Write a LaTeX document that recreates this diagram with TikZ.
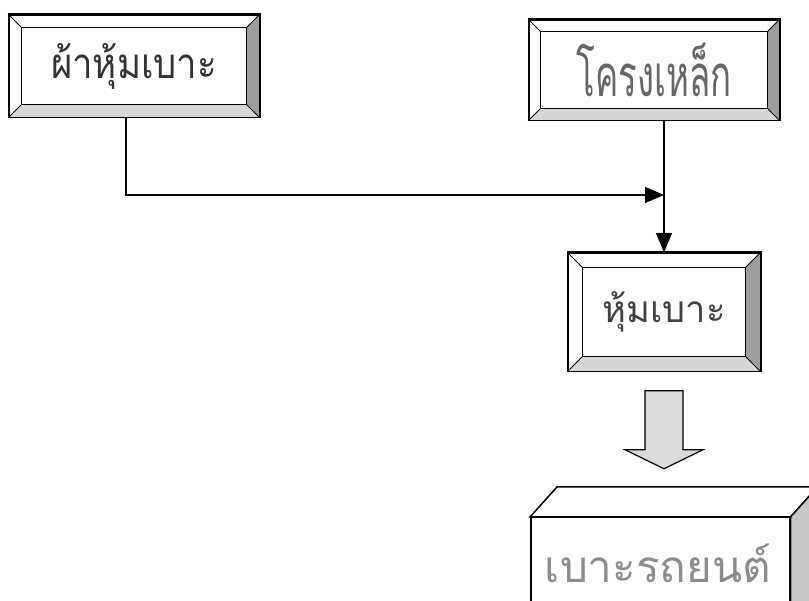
\documentclass[tikz,border=0pt]{standalone}
\usepackage{fontspec}
\newfontfamily\thaifont[Script=Thai]{Loma}
\usepackage{tikz}
\usetikzlibrary{arrows.meta,calc}
\definecolor{bevelshade}{gray}{0.62}
\definecolor{bevellight}{gray}{0.84}
\definecolor{sidegray}{gray}{0.78}
\definecolor{bigarrow}{gray}{0.86}
\tikzset{
  panelbox/.style={
    draw,
    line width=1.5pt,
    fill=white,
    inner sep=0pt,
    font=\thaifont
  },
  flow/.style={-{Triangle[length=19pt,width=16pt]}, line width=1.3pt}
}
% bevelled frame around a panel: #1 node, #2 depth
\newcommand{\bevelframe}[2]{%
  \fill[bevelshade] (#1.north east) -- (#1.south east) -- ($(#1.south east)+(-#2,#2)$) -- ($(#1.north east)+(-#2,-#2)$) -- cycle;
  \fill[bevellight] (#1.south west) -- (#1.south east) -- ($(#1.south east)+(-#2,#2)$) -- ($(#1.south west)+(#2,#2)$) -- cycle;
  \draw[line width=1.2pt] ($(#1.south west)+(#2,#2)$) rectangle ($(#1.north east)+(-#2,-#2)$);
  \draw[line width=1pt] (#1.north west) -- ++(#2,-#2) (#1.north east) -- ++(-#2,-#2)
    (#1.south west) -- ++(#2,#2) (#1.south east) -- ++(-#2,#2);
  \draw[line width=1.5pt] (#1.south west) rectangle (#1.north east);
}

\begin{document}
\begin{tikzpicture}[x=1pt,y=1pt]
\useasboundingbox (0,0) rectangle (809,601);

% panels
\node[panelbox, minimum width=250pt, minimum height=102pt, text=black!80,
  font=\thaifont\fontsize{42}{46}\selectfont] (cover) at (134,535) {\scalebox{0.87}[1]{ผ้าหุ้มเบาะ}};
\node[panelbox, minimum width=250pt, minimum height=100pt, text=black!60,
  font=\thaifont\fontsize{58}{62}\selectfont] (frame) at (654,531) {\scalebox{0.6}[1]{โครงเหล็ก}};
\node[panelbox, minimum width=192pt, minimum height=118pt, text=black!75,
  font=\thaifont\fontsize{37}{40}\selectfont] (upholster) at (664,289) {\scalebox{0.98}[1]{หุ้มเบาะ}};
\bevelframe{cover}{13}
\bevelframe{frame}{12}
\bevelframe{upholster}{15}

% connectors
\coordinate (join) at (upholster.north |- 0,406);
\draw[flow] ([xshift=-8pt]cover.south) |- (join);
\draw[flow] (upholster.north |- frame.south) -- (upholster.north);

% block arrow down to the product
\draw[line width=1.2pt, fill=bigarrow]
  ($(upholster.south)+(-19,-19)$) -- ++(0,-59) -- ++(-20,0) -- ($(upholster.south)+(0,-97)$)
  -- ($(upholster.south)+(39,-78)$) -- ++(-20,0) -- ++(0,59) -- cycle;

% product as a solid block
\node[panelbox, minimum width=259pt, minimum height=120pt, anchor=north west] (seat) at (530,84) {};
\draw[line width=1.5pt, fill=white] (seat.north west) -- ++(27,30) -- ($(seat.north east)+(27,30)$) -- (seat.north east) -- cycle;
\draw[line width=1.5pt, fill=sidegray] (seat.north east) -- ++(27,30) -- ($(seat.south east)+(27,30)$) -- (seat.south east) -- cycle;
\node[text=black!45, font=\thaifont\fontsize{44}{48}\selectfont] (seatlabel) at (658,38) {เบาะรถยนต์};
\end{tikzpicture}
\end{document}
